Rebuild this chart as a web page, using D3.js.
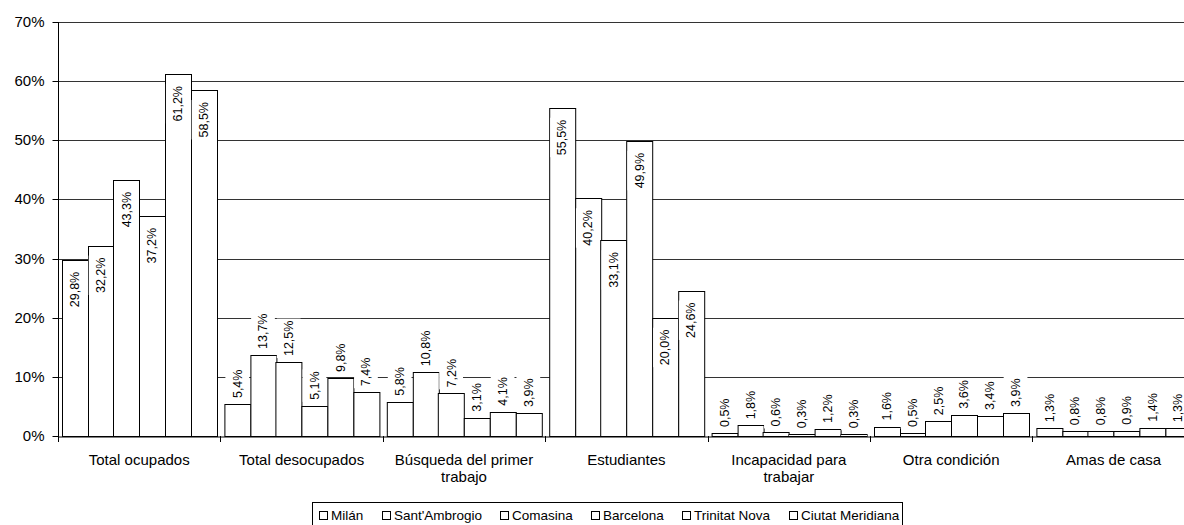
<!DOCTYPE html>
<html>
<head>
<meta charset="utf-8">
<script src="https://cdn.jsdelivr.net/npm/d3@7"></script>
<style>
  body { margin: 0; background: #fff; }
  svg { display: block; font-family: "Liberation Sans", Arial, sans-serif; }
</style>
</head>
<body>
<svg id="chart" width="1184" height="525"></svg>
<script>
// categorías y series
var categories = ['Total ocupados', 'Total desocupados', 'Búsqueda del primer trabajo',
  'Estudiantes', 'Incapacidad para trabajar', 'Otra condición', 'Amas de casa'];
var series = ['Milán', "Sant'Ambrogio", 'Comasina', 'Barcelona', 'Trinitat Nova', 'Ciutat Meridiana'];

// valores (%) por serie, en el orden de categories
var milan = [29.8, 5.4, 5.8, 55.5, 0.5, 1.6, 1.3];
var santAmbrogio = [32.2, 13.7, 10.8, 40.2, 1.8, 0.5, 0.8];
var comasina = [43.3, 12.5, 7.2, 33.1, 0.6, 2.5, 0.8];
var barcelona = [37.2, 5.1, 3.1, 49.9, 0.3, 3.6, 0.9];
var trinitatNova = [61.2, 9.8, 4.1, 20.0, 1.2, 3.4, 1.4];
var ciutatMeridiana = [58.5, 7.4, 3.9, 24.6, 0.3, 3.9, 1.3];

var yTicks = [0, 10, 20, 30, 40, 50, 60, 70];

var values = [milan, santAmbrogio, comasina, barcelona, trinitatNova, ciutatMeridiana];

// tabla para d3
var table = categories.map(function(c, ci) {
  return {
    category: c,
    bars: series.map(function(s, si) {
      return {serie: s, value: values[si][ci]};
    })
  };
});

var svg = d3.select('#chart');

// área de dibujo
var plotLeft = 58;
var step = 162.4;
var plotTop = 22;
var plotBottom = 436;

var x0 = d3.scaleBand().domain(categories).range([plotLeft, plotLeft + step * categories.length]).padding(0);
var x1 = d3.scaleBand().domain(series).range([0, x0.bandwidth()]).paddingInner(0).paddingOuter(0.155);
var y = d3.scaleLinear().domain([0, 70]).range([plotBottom, plotTop]);

var fmt = function(v) {
  return d3.format('.1f')(v).replace('.', ',') + '%';
};

// líneas de división
svg.append('g')
  .selectAll('line')
  .data(yTicks.slice(1))
  .enter()
  .append('line')
  .attr('x1', plotLeft).attr('x2', 1184)
  .attr('y1', function(d) { return Math.round(y(d)) + 0.5; })
  .attr('y2', function(d) { return Math.round(y(d)) + 0.5; })
  .attr('stroke', '#333')
  .attr('stroke-width', 1);

// barras
var groups = svg.append('g')
  .selectAll('g')
  .data(table)
  .enter()
  .append('g')
  .attr('transform', function(d) { return 'translate(' + x0(d.category) + ',0)'; });

groups.selectAll('rect')
  .data(function(d) { return d.bars; })
  .enter()
  .append('rect')
  .attr('x', function(d) { return Math.round(x1(d.serie)) + 0.5; })
  .attr('y', function(d) { return Math.round(y(d.value)) + 0.5; })
  .attr('width', Math.round(x1.bandwidth()))
  .attr('height', function(d) { return Math.max(0, Math.round(y(0)) - Math.round(y(d.value))); })
  .attr('fill', '#fff')
  .attr('stroke', '#000')
  .attr('stroke-width', 1);

// etiquetas de datos (dentro de la barra si es alta, encima si no)
var labels = groups.selectAll('g.lbl')
  .data(function(d) { return d.bars; })
  .enter()
  .append('g')
  .attr('class', 'lbl')
  .attr('transform', function(d) {
    var cx = x1(d.serie) + x1.bandwidth() / 2;
    var ty = d.value > 15 ? y(d.value) + 12 : y(d.value) - 6;
    return 'translate(' + cx + ',' + ty + ') rotate(-90)';
  });

labels.append('rect')
  .attr('fill', '#fff');

labels.append('text')
  .attr('font-size', 12.5)
  .attr('dy', '0.35em')
  .attr('text-anchor', function(d) { return d.value > 15 ? 'end' : 'start'; })
  .text(function(d) { return fmt(d.value); });

labels.each(function(d) {
  var g = d3.select(this);
  var len = g.select('text').node().getComputedTextLength();
  var inside = d.value > 15;
  g.select('rect')
    .attr('x', inside ? -len - 2 : -2)
    .attr('width', len + 4)
    .attr('y', -x1.bandwidth() / 2 + 1)
    .attr('height', x1.bandwidth() - 2);
});

// eje Y
var yAxis = svg.append('g')
  .attr('transform', 'translate(' + (plotLeft + 0.5) + ',0)')
  .call(d3.axisLeft(y).tickValues(yTicks).tickSize(6).tickPadding(8)
    .tickFormat(function(d) { return d + '%'; }));
yAxis.select('.domain').attr('stroke', '#000').attr('d', 'M0,' + plotTop + 'V' + (Math.round(plotBottom) + 0.5));
yAxis.selectAll('.tick line').attr('stroke', '#000');
yAxis.selectAll('.tick').attr('transform', function(d) { return 'translate(0,' + (Math.round(y(d)) + 0.5) + ')'; });
yAxis.selectAll('text').attr('font-size', 15).attr('fill', '#000')
  .attr('font-family', '"Liberation Sans", Arial, sans-serif');

// eje X
var xAxis = svg.append('g')
  .attr('transform', 'translate(0,' + (Math.round(plotBottom) + 0.5) + ')')
  .call(d3.axisBottom(x0).tickSize(0).tickPadding(18));
xAxis.select('.domain').attr('stroke', '#000');
xAxis.selectAll('text').attr('font-size', 15).attr('fill', '#000')
  .attr('font-family', '"Liberation Sans", Arial, sans-serif')
  .call(wrap, 150);

// marcas entre categorías
svg.append('g')
  .selectAll('line')
  .data(d3.range(categories.length + 1))
  .enter()
  .append('line')
  .attr('x1', function(i) { return Math.round(plotLeft + i * step) + 0.5; })
  .attr('x2', function(i) { return Math.round(plotLeft + i * step) + 0.5; })
  .attr('y1', Math.round(plotBottom))
  .attr('y2', Math.round(plotBottom) + 6)
  .attr('stroke', '#000');

function wrap(textSel, width) {
  textSel.each(function() {
    var text = d3.select(this);
    var words = text.text().split(/\s+/);
    var line = [];
    var lineNumber = 0;
    var yy = text.attr('y');
    var dy = parseFloat(text.attr('dy'));
    var tspan = text.text(null).append('tspan').attr('x', 0).attr('y', yy).attr('dy', dy + 'em');
    words.forEach(function(word) {
      line.push(word);
      tspan.text(line.join(' '));
      if (tspan.node().getComputedTextLength() > width && line.length > 1) {
        line.pop();
        tspan.text(line.join(' '));
        line = [word];
        lineNumber++;
        tspan = text.append('tspan').attr('x', 0).attr('y', yy)
          .attr('dy', (lineNumber * 1.15 + dy) + 'em').text(word);
      }
    });
  });
}

// leyenda
var legend = svg.append('g');
legend.append('rect')
  .attr('x', 312.5).attr('y', 502.5)
  .attr('width', 590).attr('height', 30)
  .attr('fill', '#fff').attr('stroke', '#000');

var items = legend.selectAll('g.item')
  .data(series)
  .enter()
  .append('g')
  .attr('class', 'item');
items.append('rect')
  .attr('width', 8).attr('height', 8)
  .attr('y', 511.5)
  .attr('fill', '#fff').attr('stroke', '#000');
items.append('text')
  .attr('font-size', 13.5)
  .attr('y', 519.5)
  .attr('x', 12)
  .text(function(d) { return d; });

var widths = [];
items.each(function() {
  widths.push(d3.select(this).select('text').node().getComputedTextLength());
});
var totalW = d3.sum(widths) + series.length * 12;
var gap = (899 - 319 - totalW) / (series.length - 1);
var pos = 319;
items.each(function(d, i) {
  var g = d3.select(this);
  g.select('rect').attr('x', 0.5);
  g.attr('transform', 'translate(' + Math.round(pos) + ',0)');
  pos += 12 + widths[i] + gap;
});
</script>
</body>
</html>
